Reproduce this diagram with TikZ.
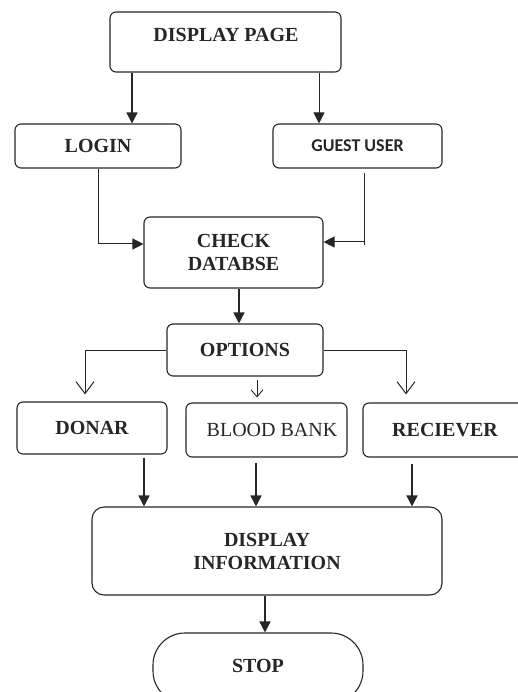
\documentclass[tikz,border=0pt]{standalone}
\usepackage{fontspec}
\setmainfont{Liberation Serif}
\newfontfamily\calib{Carlito}
\usetikzlibrary{arrows.meta,calc}
\definecolor{ink}{HTML}{262626}
\tikzset{
  box/.style={draw=ink, line width=1.1pt, rounded corners=6pt, inner sep=0pt, align=center},
  lbl/.style={font=\fontsize{20}{23}\selectfont\bfseries, text=ink, align=center, inner sep=0pt},
  thickarr/.style={draw=ink, line width=1.5pt, -{Triangle[width=11pt,length=11pt]}},
  thinarr/.style={draw=ink, line width=1pt, -{Triangle[width=11pt,length=11pt]}},
  openarr/.style={draw=ink, line width=1pt, -{Straight Barb[width=18pt,length=12pt,line width=1pt]}},
  smallarr/.style={draw=ink, line width=0.9pt, -{Straight Barb[width=12pt,length=7pt,line width=0.9pt]}}
}
\begin{document}
\begin{tikzpicture}[x=1pt,y=-1pt]
\useasboundingbox (0,0) rectangle (518,692);
\clip (0,0) rectangle (518,692);
% boxes
\node[box, minimum width=231pt, minimum height=60pt] (dp) at (225.5,42) {};
\node[lbl] (dpt) at (226,35) {DISPLAY PAGE};
\node[box, lbl, minimum width=166pt, minimum height=44pt] (login) at (98,146) {LOGIN};
\node[box, lbl, font=\calib\fontsize{18}{20}\selectfont\bfseries, minimum width=169pt, minimum height=44pt] (guest) at (357.5,146) {GUEST USER};
\node[box, lbl, minimum width=179pt, minimum height=71pt] (check) at (233.5,252.5) {CHECK\\DATABSE};
\node[box, lbl, minimum width=156pt, minimum height=52pt] (opt) at (245,350) {OPTIONS};
\node[box, lbl, minimum width=150pt, minimum height=52pt] (donar) at (92,428) {DONAR};
\node[box, lbl, font=\fontsize{20}{23}\selectfont, minimum width=161pt, minimum height=54pt] (bb) at (266.5,430) {\hspace*{11pt}BLOOD BANK};
\node[box, lbl, minimum width=164pt, minimum height=54pt] (rec) at (445,430) {RECIEVER};
\node[box, lbl, rounded corners=12pt, minimum width=350pt, minimum height=88pt] (di) at (267,551) {\raisebox{4pt}{\parbox{200pt}{\centering DISPLAY\\INFORMATION}}};
\node[box, lbl, rounded corners=32pt, minimum width=210pt, minimum height=70pt] (stop) at (258,668) {\raisebox{4pt}{STOP}};
% connectors
\draw[thickarr] (dp.south -| 132,0) -- (login.north -| 132,0);
\draw[thinarr] (dp.south -| 319,0) -- (guest.north -| 319,0);
\draw[thinarr] (login.south) |- ([yshift=8.5pt]check.west);
\draw[thinarr] ([xshift=6.5pt,yshift=-4pt]guest.south) |- ([yshift=10.5pt]check.east);
\draw[draw=ink, line width=1pt] ([yshift=10.5pt]check.east -| 364,0) -- ++(0,3);
\draw[thickarr] (check.south -| 239,0) -- (opt.north -| 239,0);
\draw[openarr] (opt.west) -| ([yshift=7pt]donar.north -| 85,0);
\draw[openarr] (opt.east) -| ([yshift=8pt]rec.north -| 406,0);
\draw[smallarr] ([yshift=-3pt]opt.south -| 257,0) -- ([yshift=5pt]bb.north -| 257,0);
\draw[thickarr] ([yshift=-3pt]donar.south -| 144,0) -- (di.north -| 144,0);
\draw[thickarr] ([yshift=-5pt]bb.south -| 256,0) -- (di.north -| 256,0);
\draw[thickarr] ([yshift=-6pt]rec.south -| 412,0) -- (di.north -| 412,0);
\draw[thickarr] (di.south -| 265,0) -- (stop.north -| 265,0);
\end{tikzpicture}
\end{document}
